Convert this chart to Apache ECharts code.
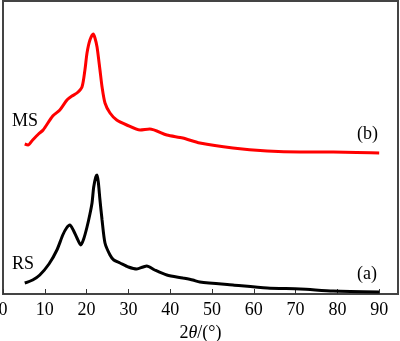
<!DOCTYPE html>
<html>
<head>
<meta charset="utf-8">
<script src="https://cdn.jsdelivr.net/npm/echarts@6/dist/echarts.min.js"></script>
<style>
  html, body { margin: 0; padding: 0; background: #fff; }
  #chart { width: 400px; height: 341px; }
</style>
</head>
<body>
<div id="chart"></div>
<script>
// XRD patterns: 2θ (degrees) against intensity (arbitrary units, offset traces)
const xTicks = [0, 10, 20, 30, 40, 50, 60, 70, 80, 90];

// (b) MS trace
const msTheta = [5.2, 6.0, 7.1, 8.5, 9.6, 11.9, 13.6, 15.3, 16.5, 17.7, 18.9, 19.6, 20.1, 20.8, 21.6, 22.0, 22.5, 23.2, 23.7, 24.4, 25.6, 27.2, 29.6, 32.8, 35.1, 39.2, 43.0, 47.1, 55.0, 63.2, 71.1, 79.0, 90.0];
const msIntensity = [150, 149, 154, 160, 164, 178, 184, 194, 198, 201, 207, 224, 241, 254, 260, 256, 247, 224, 207, 191, 181, 174, 169, 164, 165, 159, 156, 151, 146, 143, 142, 142, 141];

// (a) RS trace
const rsTheta = [5.2, 7.1, 8.8, 11.0, 12.9, 14.3, 15.2, 16.0, 16.8, 17.7, 18.6, 19.3, 20.1, 20.8, 21.3, 21.7, 22.2, 22.5, 22.8, 23.2, 23.7, 24.4, 25.6, 26.5, 28.0, 30.0, 32.0, 33.5, 34.4, 36.3, 39.2, 43.0, 45.4, 47.1, 55.0, 63.2, 71.1, 79.0, 90.0];
const rsIntensity = [11, 14, 19, 30, 44, 59, 66, 69, 64, 56, 49, 55, 67, 80, 91, 107, 117, 119, 112, 94, 74, 51, 39, 34, 31, 27, 25, 27, 28, 24, 19, 16, 14, 12, 9, 6, 5, 3, 2];

const pair = (xs, ys) => xs.map((x, i) => [x, ys[i]]);

const serif = '"Liberation Serif", "DejaVu Serif", serif';
const chart = echarts.init(document.getElementById('chart'), null, { renderer: 'canvas' });

chart.setOption({
  animation: false,
  backgroundColor: '#fff',
  grid: {
    left: 3, right: 2, top: 1, bottom: 47,
    outerBoundsMode: 'none', containLabel: false,
    show: true, borderColor: '#444', borderWidth: 2, backgroundColor: 'transparent'
  },
  xAxis: {
    type: 'value', min: 0, max: 94.5, interval: 10,
    axisLine: { show: false },
    axisTick: { show: true, inside: true, length: 5, lineStyle: { color: '#333', width: 1 },
      customValues: xTicks },
    axisLabel: { color: '#000', fontFamily: serif, fontSize: 18, margin: 7,
      customValues: xTicks, formatter: v => String(v) },
    splitLine: { show: false },
    name: '{n|2}{t|θ}{n|/(°)}',
    nameLocation: 'middle', nameGap: 28,
    nameTextStyle: {
      rich: {
        n: { fontFamily: serif, fontSize: 18, color: '#000' },
        t: { fontFamily: serif, fontSize: 18, fontStyle: 'italic', color: '#000' }
      }
    }
  },
  yAxis: {
    type: 'value', min: 0, max: 293,
    axisLine: { show: false }, axisTick: { show: false },
    axisLabel: { show: false }, splitLine: { show: false }
  },
  series: [
    {
      type: 'line', name: 'MS', data: pair(msTheta, msIntensity),
      showSymbol: false, smooth: 0.25,
      lineStyle: { color: '#ff0000', width: 3 }
    },
    {
      type: 'line', name: 'RS', data: pair(rsTheta, rsIntensity),
      showSymbol: false, smooth: 0.25,
      lineStyle: { color: '#000', width: 3 }
    }
  ],
  graphic: [
    { type: 'text', left: 12, top: 112, style: { text: 'MS', font: '18px ' + serif, fill: '#000' } },
    { type: 'text', left: 12, top: 255, style: { text: 'RS', font: '18px ' + serif, fill: '#000' } },
    { type: 'text', left: 357, top: 125, style: { text: '(b)', font: '18px ' + serif, fill: '#000' } },
    { type: 'text', left: 357, top: 265, style: { text: '(a)', font: '18px ' + serif, fill: '#000' } }
  ]
});
</script>
</body>
</html>
